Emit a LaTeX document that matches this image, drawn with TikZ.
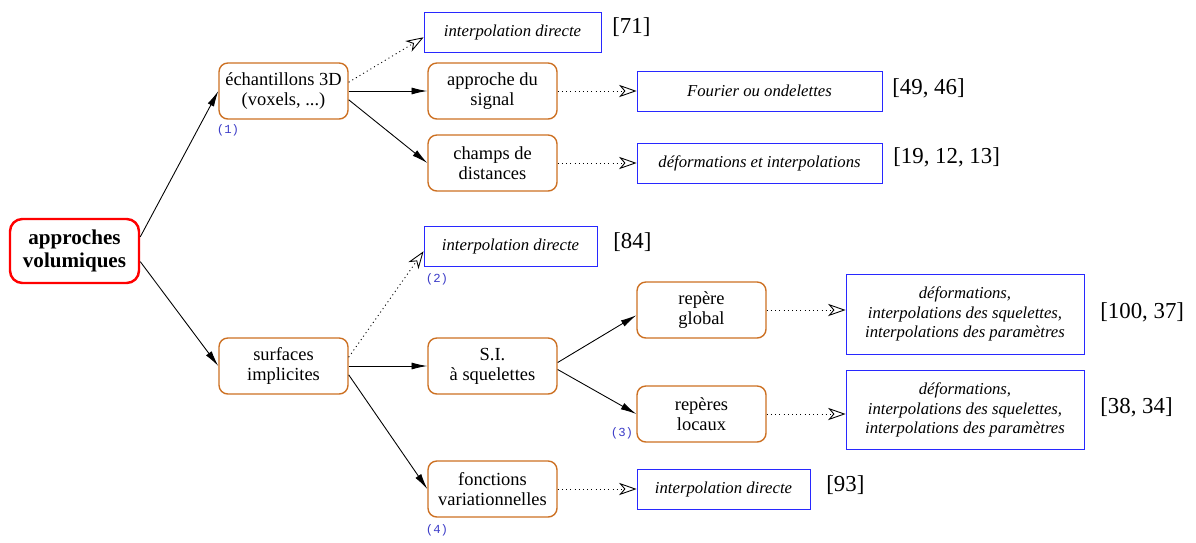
\documentclass[tikz,border=0pt]{standalone}
\usepackage{fontspec}
\setmainfont{Liberation Serif}
\setmonofont{Liberation Mono}
\usetikzlibrary{arrows.meta}
\definecolor{boxorange}{RGB}{204,112,34}
\definecolor{refblue}{RGB}{40,40,255}
\definecolor{numblue}{RGB}{60,60,200}

\begin{document}
\begin{tikzpicture}[x=0.02cm, y=-0.02cm,
	method/.style={draw=boxorange, line width=0.8pt, rounded corners=5pt, minimum width=2.58cm, minimum height=1.12cm, align=center, inner sep=2pt, font=\fontsize{10.5}{11.5}\selectfont},
	technique/.style={draw=refblue, line width=0.5pt, minimum height=0.8cm, align=center, inner sep=2pt, font=\fontsize{9.5}{11}\selectfont\itshape},
	cite/.style={anchor=west, inner sep=0pt, font=\fontsize{13}{14}\selectfont},
	tag/.style={inner sep=0pt, text=numblue, font=\fontsize{7}{8}\selectfont\ttfamily},
	branch/.style={line width=0.5pt, -{Latex[length=9pt,width=4pt]}},
	link/.style={line width=0.5pt, dash pattern=on 0.6pt off 1.8pt, -{Stealth[open,length=10pt,width=7pt,inset=3pt]}}]
	\useasboundingbox (0,0) rectangle (1196,542);

	% root
	\node[draw=red, line width=1.4pt, rounded corners=7pt, minimum width=2.58cm, minimum height=1.28cm, align=center, font=\fontsize{12}{13.5}\selectfont\bfseries] (vol) at (74.5,251) {approches\\volumiques};

	% methods
	\node[method] (ech) at (283.5,91) {échantillons 3D\\(voxels, ...)};
	\node[method] (sig) at (492.5,91) {approche du\\signal};
	\node[method] (dist) at (492.5,163) {champs de\\distances};
	\node[method] (surf) at (283.5,366) {surfaces\\implicites};
	\node[method] (sque) at (492.5,366) {S.I.\\à squelettes};
	\node[method] (glob) at (701.5,310) {repère\\global};
	\node[method] (loc) at (701.5,414) {repères\\locaux};
	\node[method] (var) at (492.5,489) {fonctions\\variationnelles};

	% techniques
	\node[technique, minimum width=3.54cm] (dir1) at (512.5,32) {interpolation directe};
	\node[technique, minimum width=4.9cm] (four) at (759.5,91) {Fourier ou ondelettes};
	\node[technique, minimum width=4.9cm] (defo) at (759.5,163) {déformations et interpolations};
	\node[technique, minimum width=3.46cm] (dir2) at (510.5,246) {interpolation directe};
	\node[technique, minimum width=4.76cm, minimum height=1.6cm] (par1) at (965,314) {déformations,\\interpolations des squelettes,\\interpolations des paramètres};
	\node[technique, minimum width=4.76cm, minimum height=1.58cm] (par2) at (965,410) {déformations,\\interpolations des squelettes,\\interpolations des paramètres};
	\node[technique, minimum width=3.46cm] (dir3) at (723.5,489) {interpolation directe};

	% references
	\node[cite] (c71) at (612,27) {[71]};
	\node[cite] (c49) at (892,88) {[49, 46]};
	\node[cite] (c19) at (893,157) {[19, 12, 13]};
	\node[cite] (c84) at (613,242) {[84]};
	\node[cite] (c100) at (1100,312) {[100, 37]};
	\node[cite] (c38) at (1100,407) {[38, 34]};
	\node[cite] (c93) at (826,485) {[93]};

	% tags
	\node[tag] (t1) at (228,130) {(1)};
	\node[tag] (t2) at (437,279) {(2)};
	\node[tag] (t3) at (622,433) {(3)};
	\node[tag] (t4) at (437,530) {(4)};

	% branches
	\draw[branch] ([yshift=8pt]vol.east) -- (ech.west);
	\draw[branch] ([yshift=-6pt]vol.east) -- (surf.west);
	\draw[branch] (ech.east) -- (sig.west);
	\draw[branch] ([yshift=-5pt]ech.east) -- (dist.west);
	\draw[branch] (surf.east) -- (sque.west);
	\draw[branch] ([yshift=-5pt]surf.east) -- (var.west);
	\draw[branch] ([yshift=2pt]sque.east) -- ([yshift=-3pt]glob.west);
	\draw[branch] ([yshift=-2pt]sque.east) -- (loc.west);

	% links
	\draw[link] ([yshift=5pt]ech.east) -- ([yshift=-3pt]dir1.west);
	\draw[link] (sig.east) -- (four.west);
	\draw[link] (dist.east) -- (defo.west);
	\draw[link] ([yshift=5pt]surf.east) -- ([yshift=-3pt]dir2.west);
	\draw[link] (glob.east) -- (glob.east -| par1.west);
	\draw[link] (loc.east) -- (loc.east -| par2.west);
	\draw[link] (var.east) -- (dir3.west);
\end{tikzpicture}
\end{document}
